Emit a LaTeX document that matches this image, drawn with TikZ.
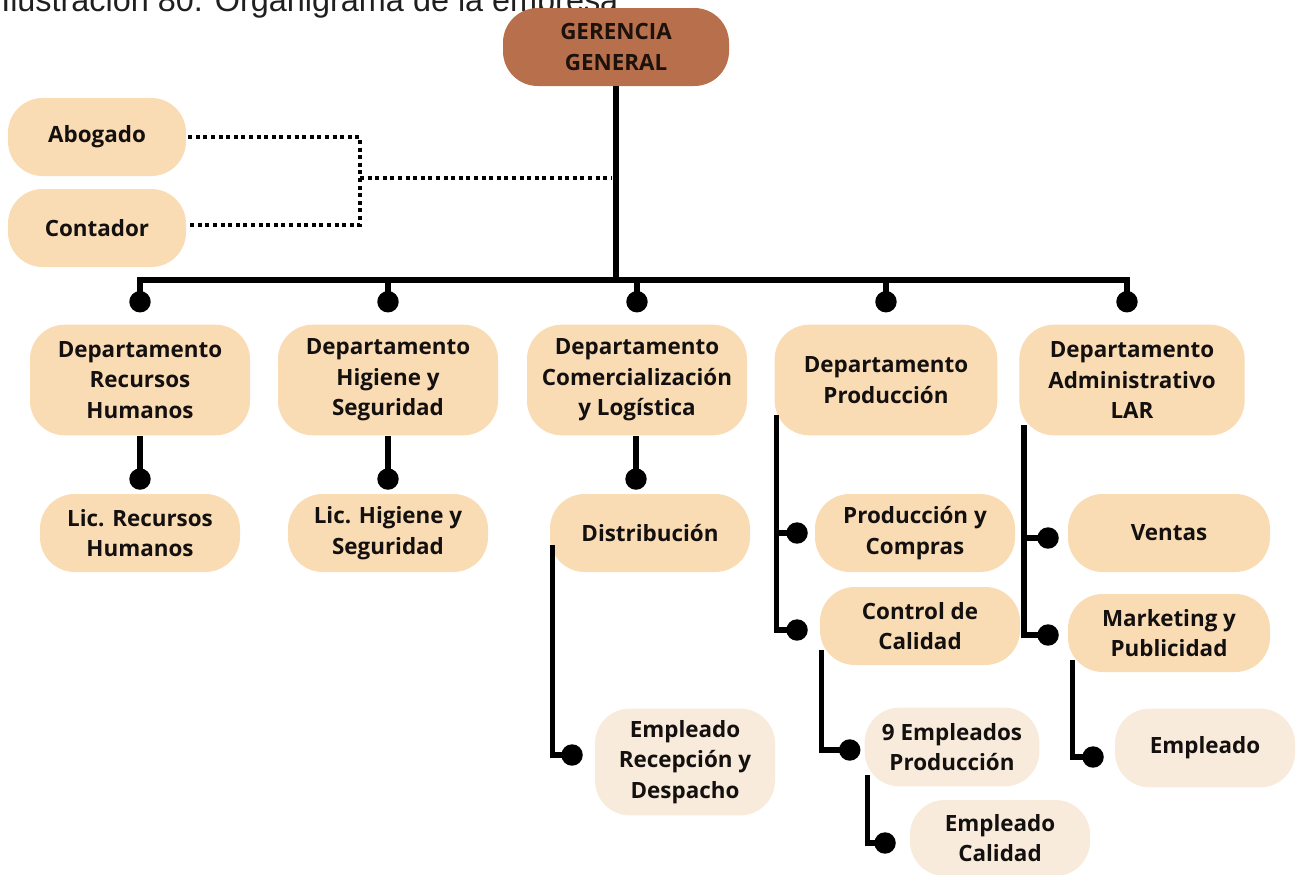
\documentclass[tikz,border=0pt]{standalone}
\usepackage{fontspec}
\setmainfont{Open Sans}
\newfontfamily\capfont{Liberation Sans}
\usetikzlibrary{arrows.meta,calc}

\definecolor{boss}{HTML}{B8704C}
\definecolor{unit}{HTML}{F9DCB4}
\definecolor{staff}{HTML}{F8EBDB}
\definecolor{ink}{HTML}{141010}

\tikzset{
  box/.style={fill=unit, rounded corners=26pt, align=center, inner sep=0pt,
    text=ink, font=\fontsize{16.8}{22.9}\selectfont\bfseries},
  bossbox/.style={box, fill=boss, text=black!85!boss},
  staffbox/.style={box, fill=staff},
  link/.style={line width=4.1pt, draw=black},
  dotlink/.style={link, -{Circle[length=16pt,width=16pt]}},
  dotted link/.style={line width=3.4pt, draw=black, dash pattern=on 3pt off 2.7pt},
}

\begin{document}
\begin{tikzpicture}[x=0.75pt, y=-0.75pt]
\useasboundingbox (0,0) rectangle (1297,875);
\clip (0,0) rectangle (1297,875);

% caption (top edge runs off the page)
\node[anchor=base west, inner sep=0pt, text=black!88, font=\capfont\fontsize{24.3}{28}\selectfont]
  (caption) at (1,11) {Ilustración 80. Organigrama de la empresa};

% top level
\node[bossbox, minimum width=169.5pt, minimum height=58.5pt] (ger) at (616,47) {GERENCIA\\GENERAL};

% advisors
\node[box, minimum width=133.5pt, minimum height=58.5pt] (abo) at (97,137) {Abogado};
\node[box, minimum width=133.5pt, minimum height=58.5pt] (con) at (97,228) {Contador};

% departments
\tikzset{dept/.style={box, minimum width=165pt, minimum height=83pt}}
\node[dept] (rh)   at (140,380) {Departamento\\Recursos\\Humanos};
\node[dept] (hig)  at (388,380) {Departamento\\Higiene y\\Seguridad};
\node[dept] (com)  at (637,380) {Departamento\\Comercialización\\y Logística};
\node[dept, minimum width=167pt] (prod) at (886,380) {Departamento\\Producción};
\node[dept, minimum width=169pt] (adm)  at (1132,380) {Departamento\\Administrativo\\LAR};

% second level
\tikzset{sub/.style={box, minimum width=150pt, minimum height=58.5pt}}
\node[sub] (lrh)  at (140,533) {Lic. Recursos\\Humanos};
\node[sub] (lhig) at (388,533) {Lic. Higiene y\\Seguridad};
\node[sub] (dist) at (650,533) {Distribución};
\node[sub] (pyc)  at (915,533) {Producción y\\Compras};
\node[sub, minimum width=151.5pt] (ven) at (1169,533) {Ventas};
\node[sub] (cc)   at (920,626) {Control de\\Calidad};
\node[sub, minimum width=151.5pt] (mkt) at (1169,633) {Marketing y\\Publicidad};

% staff
\node[staffbox, minimum width=135pt, minimum height=80pt] (erd) at (685,762) {Empleado\\Recepción y\\Despacho};
\node[staffbox, minimum width=131pt, minimum height=59pt] (e9) at (952,747) {9 Empleados\\Producción};
\node[staffbox, minimum width=135pt, minimum height=57pt] (ecal) at (1000,838) {Empleado\\Calidad};
\node[staffbox, minimum width=135pt, minimum height=59pt] (emp) at (1205,748) {Empleado};

% trunk and bus
\coordinate (busL) at (140,280);
\coordinate (busR) at (1127,280);
\draw[link] (ger.south) -- (ger.south |- busL);
\draw[link, line cap=rect] (busL) -- (busR);

% advisory (dotted) links
\coordinate (adv) at (360,178);
\draw[dotted link] ($(abo.east)+(2,0)$) -| (adv) |- ($(con.east)+(2,-3)$);
\draw[dotted link] (adv) -- ($(adv -| ger.south)+(-4,0)$);

% drops to departments
\foreach \d in {rh,hig,com,prod}
  \draw[dotlink] (\d.north |- busL) -- ($(\d.north)+(0,-12)$);
\draw[dotlink] (busR) -- ($(busR |- adm.north)+(0,-12)$);

% direct children
\draw[dotlink] (rh.south)  -- ($(lrh.north)+(0,-4)$);
\draw[dotlink] (hig.south) -- ($(lhig.north)+(0,-4)$);
\draw[dotlink] (com.south -| 636,0) -- ($(dist.north -| 636,0)+(0,-4)$);

% side branches
\draw[dotlink] ($(dist.west)+(3,12)$) |- ($(erd.west)+(-12,-7)$);
\draw[dotlink] ($(prod.west)+(2,35)$) |- ($(pyc.west)+(-7,0)$);
\draw[dotlink] ($(prod.west)+(2,35)$) |- ($(cc.west)+(-12,4)$);
\draw[dotlink] ($(adm.west)+(5,45)$) |- ($(ven.west)+(-9,5)$);
\draw[dotlink] ($(adm.west)+(5,45)$) |- ($(mkt.west)+(-9,2)$);
\draw[dotlink] ($(cc.west)+(2,24)$)  |- ($(e9.west)+(-4,3)$);
\draw[dotlink] ($(e9.west)+(3,28)$)  |- ($(ecal.west)+(-14,5)$);
\draw[dotlink] ($(mkt.west)+(5,27)$) |- ($(emp.west)+(-11,9)$);
\end{tikzpicture}
\end{document}
